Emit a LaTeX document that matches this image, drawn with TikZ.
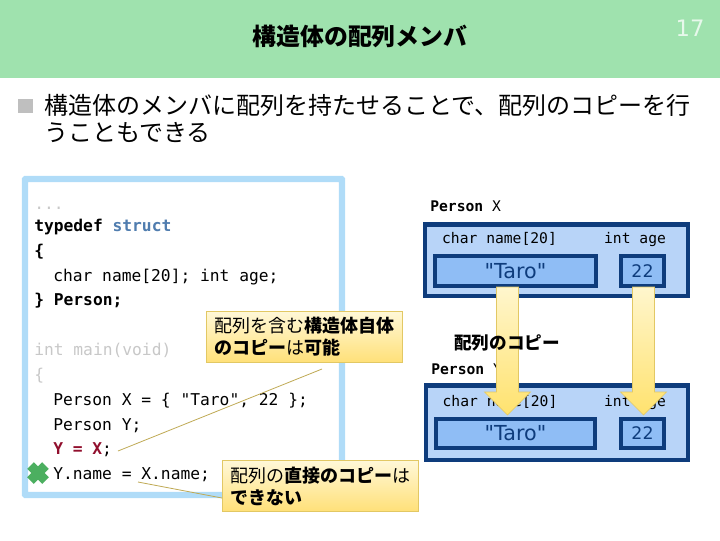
\documentclass[tikz,border=0pt]{standalone}
\usepackage{fontspec}
\usepackage{xcolor}
\usepackage{tikz}
\usetikzlibrary{calc}
\setmainfont{Noto Sans CJK JP}
\setmonofont{DejaVu Sans Mono}
\newfontfamily\valfont{DejaVu Sans}
\definecolor{headgreen}{RGB}{159,226,174}
\definecolor{panelblue}{RGB}{176,220,248}
\definecolor{boxdark}{RGB}{14,60,124}
\definecolor{boxlight}{RGB}{184,212,248}
\definecolor{boxmid}{RGB}{143,189,245}
\definecolor{notetop}{RGB}{255,248,216}
\definecolor{notebot}{RGB}{255,224,120}
\definecolor{noteline}{RGB}{226,200,100}
\definecolor{arrowtop}{RGB}{255,246,205}
\definecolor{arrowbot}{RGB}{255,226,110}
\definecolor{structblue}{RGB}{80,125,175}
\definecolor{copyred}{RGB}{145,15,45}
\definecolor{dimgray}{RGB}{200,200,200}
\definecolor{crossgreen}{RGB}{76,175,96}

\begin{document}
\begin{tikzpicture}[x=0.75pt, y=-0.75pt,
      codeline/.style={anchor=west, inner sep=0pt, font=\ttfamily\fontsize{12.2}{14}\selectfont,
        text height=11pt, text depth=1.5pt},
      smallcode/.style={anchor=center, inner sep=0pt, font=\ttfamily\fontsize{11}{13}\selectfont},
      outerbox/.style={draw=boxdark, fill=boxlight, line width=3.4pt, inner sep=0pt},
      valuebox/.style={draw=boxdark, fill=boxmid, line width=3pt, inner sep=0pt,
        text=boxdark, font=\valfont\fontsize{13}{15}\selectfont},
      notebox/.style={draw=noteline, top color=notetop, bottom color=notebot, line width=0.6pt,
        align=left, anchor=north west, inner sep=0pt, minimum width=147pt, minimum height=38.5pt,
        text width=135pt, font=\fontsize{13.5}{16.5}\selectfont},
      noteleader/.style={draw=noteline!85!black, line width=0.6pt},
      copyarrow/.style={draw=noteline, top color=arrowtop, bottom color=arrowbot, line width=0.5pt}]
    \useasboundingbox (0,0) rectangle (720,540);

    % --- header ---
    \fill[headgreen] (0,0) rectangle (720,78);
    \node[font=\bfseries\fontsize{17.9}{20}\selectfont] (title) at (360,36) {構造体の配列メンバ};
    \node[text=white!75!headgreen, font=\valfont\fontsize{17}{20}\selectfont] (pageno) at (690,28) {17};

    % --- bullet text ---
    \fill[black!25] (18,99) rectangle (33,113);
    \node[anchor=west, inner sep=0pt, font=\fontsize{18}{20}\selectfont] (lineone) at (44,105)
      {構造体のメンバに配列を持たせることで、配列のコピーを行};
    \node[anchor=west, inner sep=0pt, font=\fontsize{18}{20}\selectfont] (linetwo) at (44,132)
      {うこともできる};

    % --- code panel ---
    \draw[panelblue, line width=4.8pt, fill=white, rounded corners=0.5pt] (25,179) rectangle (342,495);
    \node[codeline, text=dimgray] (dots) at (34,203) {...};
    \node[codeline] (ltypedef) at (34,225) {\textbf{typedef} \textcolor{structblue}{\textbf{struct}}};
    \node[codeline] (lopen) at (34,250) {\textbf{\{}};
    \node[codeline] (lchar) at (53,275) {char name[20]; int age;};
    \node[codeline] (lperson) at (34,299) {\textbf{\} Person;}};
    \node[codeline, text=dimgray] (lmain) at (34,349) {int main(void)};
    \node[codeline, text=dimgray] (lopentwo) at (34,374) {\{};
    \node[codeline] (lpx) at (53,399) {Person X = \{ "Taro", 22 \};};
    \node[codeline] (lpy) at (53,424) {Person Y;};
    \node[codeline] (lcopy) at (53,448) {\textcolor{copyred}{\textbf{Y = X}};};
    \node[codeline] (lname) at (53,473) {Y.name = X.name;};

    % green cross
    \draw[crossgreen, line width=7pt] (30.5,465.5) -- (45.5,480.5);
    \draw[crossgreen, line width=7pt] (45.5,465.5) -- (30.5,480.5);

    % --- callouts ---
    \coordinate (okfree) at (322,369);
    \coordinate (oktarget) at (118,451);
    \draw[noteleader] (okfree) -- (oktarget);
    \node[notebox] (oknote) at (206,311)
      {配列を含む\textbf{構造体自体}\\\textbf{のコピー}は\textbf{可能}};
    \coordinate (ngtarget) at (138,482);
    \node[notebox] (ngnote) at (222,460)
      {配列の\textbf{直接のコピー}は\\\textbf{できない}};
    \draw[noteleader] (ngtarget) -- (ngnote.west |- 0,498);

    % --- Person X ---
    \node[smallcode, anchor=west] (xlabel) at (430,206) {\textbf{Person} X};
    \node[outerbox, minimum width=197.25pt, minimum height=53.6pt] (xbox) at (556.5,260.25) {};
    \node[smallcode] (xnamelabel) at (499.5,239) {char name[20]};
    \node[smallcode] (xagelabel) at (635,239) {int age};
    \node[valuebox, font=\valfont\fontsize{15.5}{17}\selectfont, minimum width=120.75pt, minimum height=22.5pt] (xname) at (515.5,271) {"Taro"};
    \node[valuebox, minimum width=32.25pt, minimum height=22.5pt] (xage) at (642.5,271) {22};

    % --- Person Y ---
    \node[smallcode, anchor=west] (ylabel) at (431,369) {\textbf{Person} Y};
    \node[outerbox, minimum width=196.5pt, minimum height=55.9pt] (ybox) at (557,422.75) {};
    \node[smallcode] (ynamelabel) at (500,402) {char name[20]};
    \node[smallcode] (yagelabel) at (635,402) {int age};
    \node[valuebox, font=\valfont\fontsize{15.5}{17}\selectfont, minimum width=119.25pt, minimum height=21.75pt] (yname) at (515.5,433.5) {"Taro"};
    \node[valuebox, minimum width=32.25pt, minimum height=21.75pt] (yage) at (642.5,433.5) {22};

    % --- copy arrows ---
    \foreach \cpyname/\cpyx in {cpyname/507.5, cpyage/643.5} {
      \coordinate (\cpyname top) at (\cpyx,287);
      \coordinate (\cpyname tip) at (\cpyx,415);
      \path[copyarrow] (\cpyname top) ++(-11,0) -- ++(22,0) -- ++(0,105) -- ++(12,0)
        -- (\cpyname tip) -- ++(-23,-23) -- ++(12,0) -- cycle;
    }
    \node[font=\bfseries\fontsize{13.2}{16}\selectfont, inner sep=0pt] (copylabel) at (507,343) {配列のコピー};
  \end{tikzpicture}
\end{document}
